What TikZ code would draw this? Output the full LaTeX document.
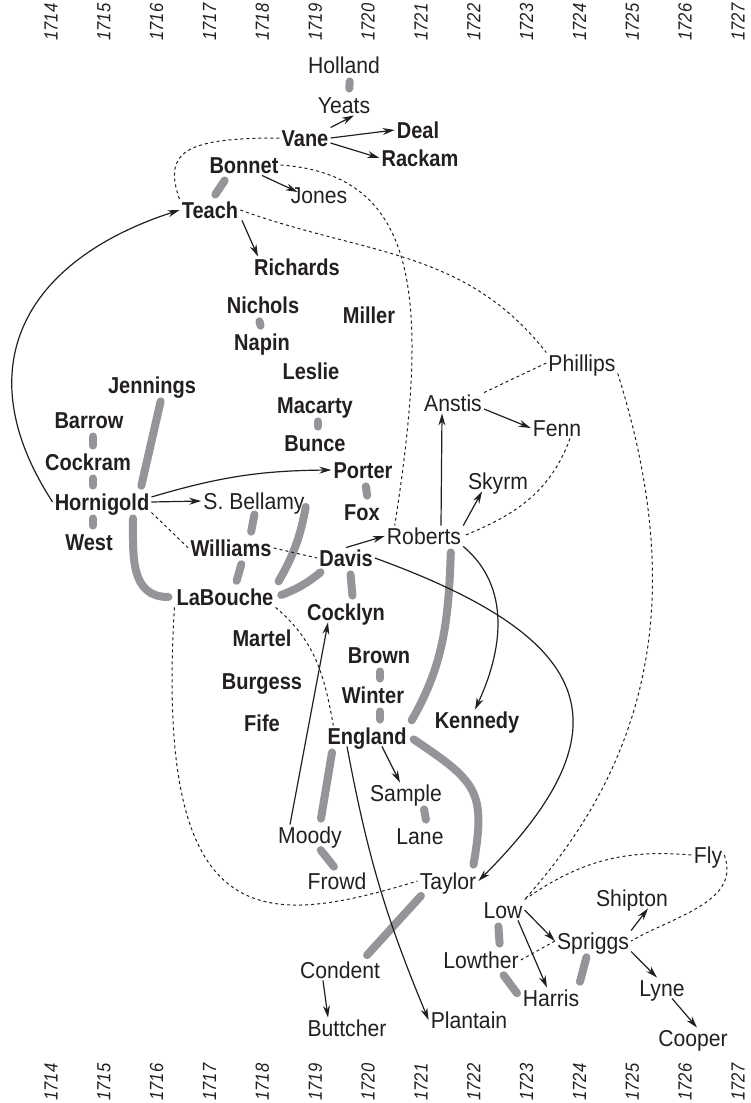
\documentclass[tikz,border=0pt]{standalone}
\usepackage{fontspec}
\usetikzlibrary{arrows.meta}
\newfontfamily\crewfont{Liberation Sans}[FakeStretch=0.92]
\newfontfamily\captfont{Liberation Sans}[FakeStretch=0.87]
\definecolor{ink}{RGB}{35,31,32}
\definecolor{bargrey}{RGB}{148,149,153}

\begin{document}
\begin{tikzpicture}[x=1pt, y=-1pt, ink,
	crew/.style={font=\crewfont\fontsize{23}{26}\selectfont, text height=16.5pt, text depth=0pt, inner sep=2pt},
	capt/.style={crew, font=\captfont\bfseries\fontsize{23}{26}\selectfont},
	yr/.style={font=\captfont\itshape\fontsize{19}{21}\selectfont, rotate=90, inner sep=0pt},
	merge/.style={bargrey, line width=8pt, line cap=round, shorten <=6pt, shorten >=6pt},
	split/.style={line width=1.2pt, -{Stealth[length=12pt,width=7pt]}},
	tie/.style={line width=1pt, dash pattern=on 3pt off 3pt}]
	\useasboundingbox (0,0) rectangle (750,1103);
	
	% years, top and bottom
	\foreach \yr [count=\i from 0] in {1714,...,1727} {
		\node[yr] (top\yr) at (51+52.85*\i,22) {\yr};
		\node[yr] (bot\yr) at (51+52.85*\i,1082) {\yr};
	}
	
	% names
	\node[crew] (Holland) at (344,65) {Holland};
	\node[crew] (Yeats) at (344,105) {Yeats};
	\node[capt] (Vane) at (305,138) {Vane};
	\node[capt] (Deal) at (418,130) {Deal};
	\node[capt] (Rackam) at (420,158) {Rackam};
	\node[capt] (Bonnet) at (244,165) {Bonnet};
	\node[crew] (Jones) at (319,195) {Jones};
	\node[capt] (Teach) at (210,210) {Teach};
	\node[capt] (Richards) at (297,267) {Richards};
	\node[capt] (Nichols) at (263,305) {Nichols};
	\node[capt] (Miller) at (369,315) {Miller};
	\node[capt] (Napin) at (262,342) {Napin};
	\node[capt] (Leslie) at (311,371) {Leslie};
	\node[capt] (Jennings) at (152,385) {Jennings};
	\node[capt] (Macarty) at (315,405) {Macarty};
	\node[capt] (Barrow) at (89,420) {Barrow};
	\node[capt] (Bunce) at (315,443) {Bunce};
	\node[capt] (Cockram) at (88,462) {Cockram};
	\node[capt] (Porter) at (363,470) {Porter};
	\node[capt] (Hornigold) at (102,502) {Hornigold};
	\node[crew] (SBellamy) at (254,501) {S. Bellamy};
	\node[capt] (Fox) at (362,512) {Fox};
	\node[capt] (West) at (89,542) {West};
	\node[capt] (Williams) at (231,548) {Williams};
	\node[capt] (Davis) at (346,558) {Davis};
	\node[capt] (LaBouche) at (225,597) {LaBouche};
	\node[crew] (Phillips) at (582,363) {Phillips};
	\node[crew] (Anstis) at (453,403) {Anstis};
	\node[crew] (Fenn) at (557,428) {Fenn};
	\node[crew] (Skyrm) at (498,481) {Skyrm};
	\node[crew] (Roberts) at (424,536) {Roberts};
	\node[capt] (Cocklyn) at (346,612) {Cocklyn};
	\node[capt] (Martel) at (262,638) {Martel};
	\node[capt] (Brown) at (379,655) {Brown};
	\node[capt] (Burgess) at (262,681) {Burgess};
	\node[capt] (Winter) at (373,695) {Winter};
	\node[capt] (Kennedy) at (477,720) {Kennedy};
	\node[capt] (Fife) at (262,723) {Fife};
	\node[capt] (England) at (367,736) {England};
	\node[crew] (Sample) at (406,793) {Sample};
	\node[crew] (Moody) at (310,835) {Moody};
	\node[crew] (Lane) at (420,836) {Lane};
	\node[crew] (Frowd) at (337,881) {Frowd};
	\node[crew] (Taylor) at (448,881) {Taylor};
	\node[crew] (Fly) at (708,855) {Fly};
	\node[crew] (Shipton) at (632,898) {Shipton};
	\node[crew] (Low) at (503,910) {Low};
	\node[crew] (Spriggs) at (593,941) {Spriggs};
	\node[crew] (Lowther) at (481,960) {Lowther};
	\node[crew] (Condent) at (340,970) {Condent};
	\node[crew] (Lyne) at (662,988) {Lyne};
	\node[crew] (Harris) at (551,998) {Harris};
	\node[crew] (Plantain) at (469,1020) {Plantain};
	\node[crew] (Buttcher) at (347,1028) {Buttcher};
	\node[crew] (Cooper) at (693,1038) {Cooper};
	
	% grey bars
	\draw[merge] ([xshift=6pt]Holland.south) -- ([xshift=5pt]Yeats.north);
	\draw[merge] ([xshift=-16pt]Bonnet.south) -- ([xshift=2pt]Teach.north);
	\draw[merge] ([xshift=-5pt]Nichols.south) -- (Napin.north);
	\draw[merge] ([xshift=3pt]Macarty.south) -- ([xshift=3pt]Bunce.north);
	\draw[merge] ([xshift=2pt]Porter.south) -- ([xshift=6pt]Fox.north);
	\draw[merge] ([xshift=4pt]Barrow.south) -- ([xshift=5pt]Cockram.north);
	\draw[merge] ([xshift=5pt]Cockram.south) -- ([xshift=-9pt]Hornigold.north);
	\draw[merge] ([xshift=-9pt]Hornigold.south) -- ([xshift=4pt]West.north);
	\draw[merge] ([xshift=10pt]Jennings.south) -- ([xshift=38pt]Hornigold.north);
	\draw[merge] ([xshift=31pt]Hornigold.south) to[out=-90,in=180,looseness=1.2] (LaBouche.west);
	\draw[merge, shorten <=3pt] ([xshift=1pt]SBellamy.south) -- ([xshift=19pt]Williams.north);
	\draw[merge] ([xshift=12pt]Williams.south) -- ([xshift=10pt]LaBouche.north);
	\draw[merge] (LaBouche.north east) to[bend right=10] (SBellamy.east);
	\draw[merge] (LaBouche.east) to[bend right=10] ([xshift=8pt]Davis.south west);
	\draw[merge] ([xshift=4pt]Davis.south) -- ([xshift=7pt]Cocklyn.north);
	\draw[merge] ([xshift=27pt]Roberts.south) to[out=-92,in=60] (England.north east);
	\draw[merge] (England.east) to[out=-34,in=80,looseness=1.4] ([xshift=-6pt]Taylor.north east);
	\draw[merge] ([xshift=1pt]Brown.south) -- ([xshift=7pt]Winter.north);
	\draw[merge] ([xshift=7pt]Winter.south) -- ([xshift=13pt]England.north);
	\draw[merge] ([xshift=-34pt]England.south) -- ([xshift=10pt]Moody.north);
	\draw[merge] ([xshift=17pt]Sample.south) -- ([xshift=7pt]Lane.north);
	\draw[merge, shorten >=5pt] ([xshift=7pt]Moody.south) -- (Frowd.north);
	\draw[merge] ([xshift=-23pt]Taylor.south) -- ([xshift=23pt]Condent.north);
	\draw[merge] ([xshift=-5pt]Low.south) -- ([xshift=19pt]Lowther.north);
	\draw[merge] ([xshift=19pt]Lowther.south) -- (Harris.west);
	\draw[merge] ([xshift=-3pt]Harris.north east) -- ([xshift=-5pt]Spriggs.south);
	
	% arrows
	\draw[split] (Vane.north east) -- ([xshift=10pt]Yeats.south);
	\draw[split] (Vane.east) -- (Deal.west);
	\draw[split] ([yshift=-5pt]Vane.east) -- (Rackam.west);
	\draw[split] ([xshift=18pt]Bonnet.south) -- ([xshift=9pt,yshift=3pt]Jones.west);
	\draw[split] (Hornigold.west) to[out=123,in=198,looseness=1.3] (Teach.west);
	\draw[split] ([xshift=32pt]Teach.south) -- ([xshift=-39pt]Richards.north);
	\draw[split] (Hornigold.east) -- (SBellamy.west);
	\draw[split] ([yshift=5pt]Hornigold.east) to[bend left=8] (Porter.west);
	\draw[split] (Davis.north) -- (Roberts.west);
	\draw[split] ([xshift=17pt]Roberts.north) -- ([xshift=-11pt]Anstis.south);
	\draw[split] (Roberts.north east) -- ([xshift=-16pt]Skyrm.south);
	\draw[split] ([yshift=-6pt]Anstis.east) -- (Fenn.west);
	\draw[split] (Roberts.south east) to[out=-40,in=65] ([xshift=-2pt]Kennedy.north);
	\draw[split] (Davis.east) to[out=-20,in=45,looseness=1.7] (Taylor.east);
	\draw[split] ([xshift=15pt]England.south) -- ([xshift=-6pt]Sample.north);
	\draw[split] ([xshift=-20pt]Moody.north) -- ([xshift=-18pt]Cocklyn.south);
	\draw[split] ([xshift=-20pt]England.south) to[bend right=6] (Plantain.west);
	\draw[split] ([xshift=-17pt]Condent.south) -- ([xshift=-19pt]Buttcher.north);
	\draw[split] (Low.east) -- (Spriggs.west);
	\draw[split] ([xshift=15pt]Low.south) -- ([xshift=-4pt]Harris.north);
	\draw[split] (Spriggs.north east) -- ([xshift=16pt]Shipton.south);
	\draw[split] (Spriggs.south east) -- ([xshift=-5pt]Lyne.north);
	\draw[split] ([xshift=10pt]Lyne.south) -- ([xshift=4pt]Cooper.north);
	
	% dashed ties
	\draw[tie] (Vane.west) .. controls +(-90,0) and +(-18,-50) .. (Teach.north west);
	\draw[tie] (Bonnet.east) .. controls +(140,10) and +(35,-226) .. ([xshift=10pt]Roberts.north west);
	\draw[tie] (Teach.east) to[out=-20,in=128] (Phillips.north west);
	\draw[tie] (Phillips.west) -- (Anstis.north east);
	\draw[tie] (Phillips.south east) .. controls +(70,223) and +(125,-140) .. (Low.north east);
	\draw[tie] ([xshift=13pt]Fenn.south) to[out=-110,in=22] (Roberts.east);
	\draw[tie] (Hornigold.south east) -- (Williams.west);
	\draw[tie] (Williams.east) -- (Davis.west);
	\draw[tie] (LaBouche.south east) to[out=-40,in=100] ([xshift=8pt]England.north west);
	\draw[tie] (LaBouche.south west) .. controls +(-20,330) and +(-155,47) .. (Taylor.west);
	\draw[tie] (Low.north east) to[out=35,in=175] (Fly.west);
	\draw[tie] (Fly.east) to[out=-70,in=30] (Spriggs.east);
	\draw[tie] (Spriggs.west) -- (Lowther.east);
\end{tikzpicture}
\end{document}
